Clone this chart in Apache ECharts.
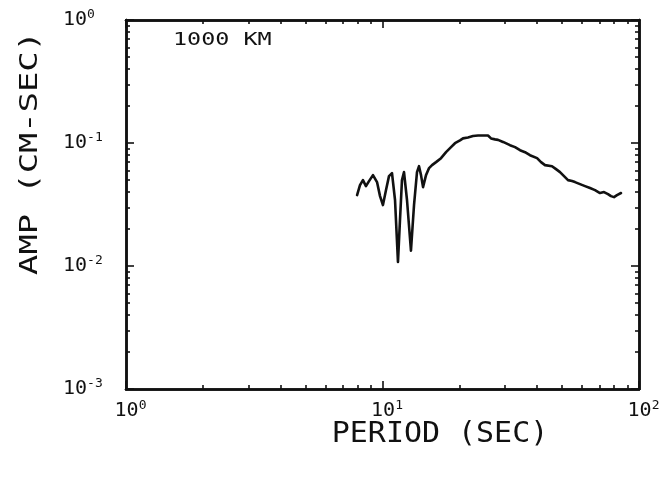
<!DOCTYPE html>
<html>
<head>
<meta charset="utf-8">
<script src="https://cdn.jsdelivr.net/npm/echarts@6/dist/echarts.min.js"></script>
<style>
  html, body { margin: 0; padding: 0; background: #ffffff; }
  #chart { width: 665px; height: 477px; }
</style>
</head>
<body>
<div id="chart"></div>
<script>
// Spectral amplitude versus period at 1000 km distance
const period = [
  7.96, 8.17, 8.39, 8.62, 8.86, 9.18, 9.52, 9.78, 10.04, 10.32,
  10.60, 10.89, 11.19, 11.49, 11.70, 11.91, 12.13, 12.46, 12.91, 13.27,
  13.63, 13.88, 14.13, 14.39, 14.78, 15.19, 15.60, 16.17, 16.91, 17.69,
  18.50, 19.17, 20.05, 20.60, 21.54, 22.53, 23.57, 24.65, 25.78, 26.49,
  27.46, 28.21, 29.50, 31.41, 32.86, 34.37, 35.94, 37.58, 40.05, 41.49,
  43.01, 45.80, 47.48, 49.21, 51.01, 52.87, 54.81, 56.30, 58.89, 61.59,
  64.42, 67.37, 70.47, 73.04, 75.70, 77.77, 79.89, 82.08, 85.08
];
const amp = [
  0.0377, 0.0455, 0.0499, 0.0446, 0.0490, 0.0548, 0.0481, 0.0370, 0.0313, 0.0414,
  0.0538, 0.0569, 0.0344, 0.0108, 0.0237, 0.0499, 0.0580, 0.0344, 0.0133, 0.0313,
  0.0580, 0.0648, 0.0548, 0.0438, 0.0548, 0.0625, 0.0661, 0.0699, 0.0753, 0.0842,
  0.0925, 0.0996, 0.105, 0.109, 0.111, 0.114, 0.115, 0.115, 0.115, 0.109,
  0.107, 0.106, 0.102, 0.0960, 0.0925, 0.0874, 0.0842, 0.0796, 0.0753, 0.0699,
  0.0661, 0.0648, 0.0613, 0.0580, 0.0538, 0.0499, 0.0490, 0.0481, 0.0463, 0.0446,
  0.0430, 0.0414, 0.0392, 0.0399, 0.0384, 0.0370, 0.0363, 0.0377, 0.0392
];

// Decade ticks (labelled) and in-between log ticks
const xMajor = [1, 10, 100];
const xMinor = [2, 3, 4, 5, 6, 7, 8, 9, 20, 30, 40, 50, 60, 70, 80, 90];
const yMajor = [0.001, 0.01, 0.1, 1];
const yMinor = [0.002, 0.003, 0.004, 0.005, 0.006, 0.007, 0.008, 0.009,
                0.02, 0.03, 0.04, 0.05, 0.06, 0.07, 0.08, 0.09,
                0.2, 0.3, 0.4, 0.5, 0.6, 0.7, 0.8, 0.9];

const xTitle = 'PERIOD (SEC)';
const yTitle = 'AMP (CM-SEC)';
const note = '1000 KM';

const FONT = 'DejaVu Sans Mono';
const INK = '#111111';

function decadeLabel(v) {
  const e = Math.round(Math.log10(v));
  return '{b|10}{s|' + e + '}';
}

const labelRichX = {
  b: { fontFamily: FONT, fontSize: 20, color: INK, lineHeight: 24, padding: [0, 0, 0, 9] },
  s: { fontFamily: FONT, fontSize: 13, color: INK, lineHeight: 14, verticalAlign: 'top' }
};
const labelRichY = {
  b: { fontFamily: FONT, fontSize: 20, color: INK, lineHeight: 24 },
  s: { fontFamily: FONT, fontSize: 13, color: INK, lineHeight: 14, verticalAlign: 'top' }
};

function axis(dim, position, ticks, tickLen, labelled) {
  const isX = dim === 'x';
  const a = {
    type: 'log',
    logBase: 10,
    position: position,
    min: isX ? 1 : 0.001,
    max: isX ? 100 : 1,
    axisLine: { show: true, lineStyle: { color: INK, width: 2.5 } },
    axisTick: {
      show: true,
      inside: true,
      length: tickLen,
      customValues: ticks,
      lineStyle: { color: INK, width: 1.6 }
    },
    axisLabel: { show: false },
    splitLine: { show: false },
    minorTick: { show: false },
    minorSplitLine: { show: false }
  };
  if (labelled) {
    a.axisLabel = {
      show: true,
      customValues: ticks,
      formatter: decadeLabel,
      rich: isX ? labelRichX : labelRichY,
      margin: isX ? 10 : 63,
      align: isX ? 'center' : 'left',
      verticalAlign: isX ? 'top' : 'middle'
    };
  }
  return a;
}

const chart = echarts.init(document.getElementById('chart'), null, { renderer: 'canvas' });

chart.setOption({
  backgroundColor: '#ffffff',
  animation: false,
  grid: { left: 126, right: 26, top: 20, bottom: 88, containLabel: false },
  xAxis: [
    axis('x', 'bottom', xMajor, 8, true),
    axis('x', 'bottom', xMinor, 4, false),
    axis('x', 'top', xMajor, 8, false),
    axis('x', 'top', xMinor, 4, false)
  ],
  yAxis: [
    axis('y', 'left', yMajor, 8, true),
    axis('y', 'left', yMinor, 4, false),
    axis('y', 'right', yMajor, 8, false),
    axis('y', 'right', yMinor, 4, false)
  ],
  graphic: [
    {
      type: 'text', x: 173, y: 40, scaleX: 1.3,
      style: { text: note, font: '18px "' + FONT + '"', fill: INK, align: 'left', verticalAlign: 'middle' }
    },
    {
      type: 'text', x: 440, y: 435, scaleX: 1.07,
      style: { text: xTitle, font: '28px "' + FONT + '"', fill: INK, align: 'center', verticalAlign: 'middle' }
    },
    {
      type: 'text', x: 30, y: 153, rotation: Math.PI / 2, scaleX: 1.35,
      style: { text: yTitle, font: '25px "' + FONT + '"', fill: INK, align: 'center', verticalAlign: 'middle' }
    }
  ],
  series: [
    {
      type: 'line',
      xAxisIndex: 0,
      yAxisIndex: 0,
      data: period.map((p, i) => [p, amp[i]]),
      showSymbol: false,
      symbol: 'none',
      smooth: false,
      lineStyle: { color: INK, width: 2.6, join: 'round', cap: 'round' }
    }
  ]
});
</script>
</body>
</html>
